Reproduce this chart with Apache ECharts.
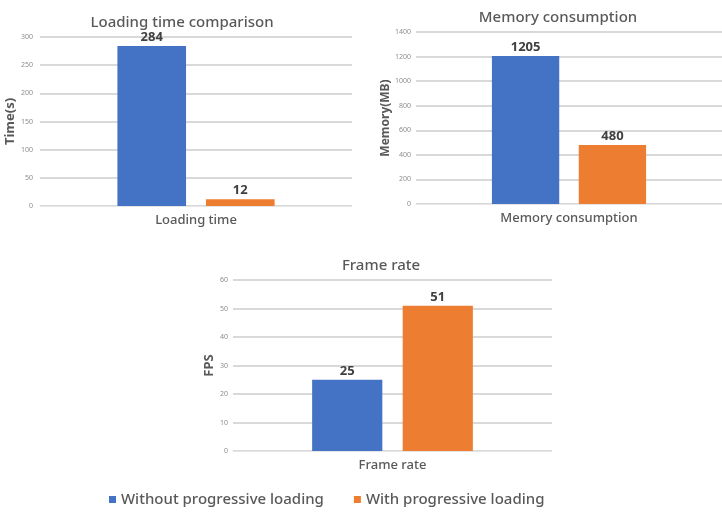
<!DOCTYPE html>
<html><head><meta charset="utf-8">
<script src="https://cdn.jsdelivr.net/npm/echarts@6/dist/echarts.min.js"></script>
<style>html,body{margin:0;padding:0;background:#fff}#c{width:722px;height:513px}</style>
</head><body><div id="c"></div>
<script>
const seriesNames = ['Without progressive loading', 'With progressive loading'];
const chartTitles = ['Loading time comparison', 'Memory consumption', 'Frame rate'];
const categories = ['Loading time', 'Memory consumption', 'Frame rate'];
const yNames = ['Time(s)', 'Memory(MB)', 'FPS'];
const withoutValues = [284, 1205, 25];
const withValues = [12, 480, 51];
const yMax = [300, 1400, 60];
const yInterval = [50, 200, 10];

const colors = ['#4472C4', '#ED7D31'];
const gridPos = [
  {left: 40, top: 37, width: 312, height: 169},
  {left: 416, top: 32, width: 315, height: 172},
  {left: 233, top: 280, width: 319, height: 171}
];
const titlePos = [{x: 177, y: 10}, {x: 553, y: 5}, {x: 376, y: 253}];
const yNameGap = [20, 23, 17];
const yNameSize = [13, 12, 13];
const yLabelMargin = [7, 5, 5];
const font = '"Noto Sans", "Open Sans", sans-serif';

const option = {
  animation: false,
  textStyle: {fontFamily: font},
  title: chartTitles.map((t, i) => ({
    text: t, left: titlePos[i].x, top: titlePos[i].y, textAlign: 'center',
    textStyle: {fontSize: 15, fontWeight: 500, color: '#595959', fontFamily: font}
  })),
  legend: {
    data: seriesNames, left: 104, top: 487, itemWidth: 7, itemHeight: 7, itemGap: 30,
    icon: 'rect',
    textStyle: {fontSize: 15, color: '#595959', fontWeight: 500, fontFamily: font}
  },
  grid: gridPos.map(g => Object.assign({containLabel: false}, g)),
  xAxis: categories.map((c, i) => ({
    type: 'category', gridIndex: i, data: [c],
    axisTick: {show: false},
    axisLine: {lineStyle: {color: '#e6e6e6', width: 1}},
    axisLabel: {fontSize: 13, color: '#595959', margin: 8, fontWeight: 500}
  })),
  yAxis: yNames.map((n, i) => ({
    type: 'value', gridIndex: i, min: 0, max: yMax[i], interval: yInterval[i],
    name: n, nameLocation: 'middle', nameGap: yNameGap[i],
    nameTextStyle: {fontSize: yNameSize[i], fontWeight: 'bold', color: '#595959'},
    axisLine: {show: false}, axisTick: {show: false},
    axisLabel: {fontSize: 7, color: '#8c8c8c', margin: yLabelMargin[i], formatter: v => String(v)},
    splitLine: {lineStyle: {color: '#d9d9d9', width: 2}}
  })),
  series: []
};
[withoutValues, withValues].forEach((vals, s) => {
  vals.forEach((v, i) => {
    option.series.push({
      type: 'bar', name: seriesNames[s], xAxisIndex: i, yAxisIndex: i,
      data: [v], barWidth: '22%', barGap: '29%',
      itemStyle: {color: colors[s]},
      label: {show: true, position: 'top', distance: 2, fontSize: 13, fontWeight: 'bold', color: '#404040'}
    });
  });
});
echarts.init(document.getElementById('c')).setOption(option);
</script></body></html>
